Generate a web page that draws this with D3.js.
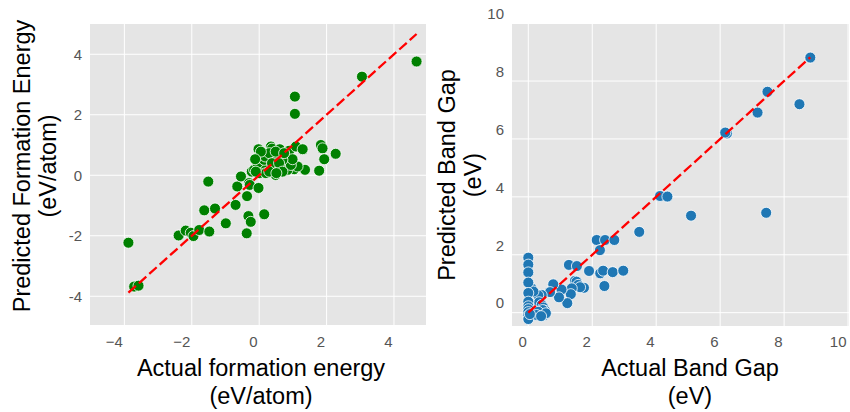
<!DOCTYPE html>
<html>
<head>
<meta charset="utf-8">
<script src="https://d3js.org/d3.v7.min.js"></script>
<style>
  html, body { margin: 0; padding: 0; background: #fff; }
  svg { display: block; font-family: "Liberation Sans", Arial, sans-serif; }
  .tick-label { fill: #555; font-size: 15px; }
  .title { fill: #000; font-size: 23.5px; }
</style>
</head>
<body>
<svg width="850" height="412"></svg>
<script>
// formation energy panel: [actual, predicted]
var feActual = [4.67, 3.05, 1.06, 1.06, -3.88, -3.71, -3.58, -1.51, -1.63, -1.31,
  -2.39, -2.18, -2.03, -1.95, -1.78, -1.48, -0.99, -0.70, -0.36, -0.32,
  -0.25, -0.37, 0.15, -0.65, -0.54, -0.30, -0.28, -0.02, -0.22, -0.15,
  -0.02, 0.35, 0.38, 0.61, 0.89, 1.09, 1.29, 1.83, 1.88, 1.93,
  2.27, 1.78, 1.36, 1.04, 1.14, 0.84, 0.64, 0.49, 0.49, 0.30,
  0.10, 0.00, 0.20, -0.05, 0.10, 0.15, 0.18, 0.45, 0.64, 0.79,
  0.94, 0.99, 0.69, 0.30, 0.49, 0.74, 0.05, -0.12, 0.38, 0.59,
  0.30, -0.10, 0.69, 0.51];
var fePred = [3.76, 3.26, 2.60, 2.03, -2.23, -3.68, -3.65, -0.21, -1.16, -1.10,
  -1.99, -1.83, -1.90, -2.01, -1.81, -1.86, -1.59, -0.98, -0.69, -1.35,
  -1.54, -1.92, -1.29, -0.37, -0.04, -0.26, -0.32, -0.42, 0.12, 0.18,
  0.86, 0.95, 0.88, 0.86, 0.81, 0.95, 0.86, 1.00, 0.89, 0.53,
  0.71, 0.15, 0.18, 0.20, 0.29, 0.18, 0.12, 0.01, 0.20, 0.23,
  0.23, 0.07, 0.07, 0.40, 0.56, 0.51, 0.62, 0.62, 0.45, 0.40,
  0.34, 0.53, 0.51, 0.73, 0.78, 0.73, 0.78, 0.53, 0.40, 0.40,
  0.12, 0.12, 0.12, 0.07];

// band gap panel: [actual, predicted]
var bgActual = [8.82, 7.48, 7.17, 8.48, 6.21, 6.16, 4.12, 4.35, 5.09, 7.44,
  3.47, 2.14, 2.40, 2.69, 2.24, 1.27, 1.52, 1.90, 2.25, 2.34,
  2.64, 2.97, 2.38, 1.46, 1.51, 1.56, 1.74, 1.62, 1.36, 1.33,
  1.22, 1.04, 0.96, 0.78, 0.68, 0.42, 0.31, 0.34, 0.42, 0.47,
  0.52, 0.45, 0.31, 0.26, 0.10, 0.16, 0.00, 0.00, 0.00, 0.00,
  0.00, 0.00, 0.00, 0.00, 0.00, 0.00, 0.00, 0.05, 0.50, 0.55, 0.40];
var bgPred = [8.81, 7.63, 6.91, 7.20, 6.19, 6.22, 4.03, 4.01, 3.35, 3.45,
  2.79, 2.51, 2.51, 2.51, 2.16, 1.65, 1.61, 1.44, 1.36, 1.45,
  1.40, 1.45, 0.92, 1.10, 1.07, 0.96, 0.86, 0.88, 0.84, 0.64,
  0.33, 0.80, 0.53, 0.98, 0.71, 0.61, 0.60, 0.36, 0.27, 0.18,
  0.07, 0.09, 0.03, -0.08, 0.84, 0.73, 1.90, 1.66, 1.39, 1.04,
  0.68, 0.38, 0.22, 0.12, 0.02, -0.10, -0.22, -0.05, -0.08, -0.02, -0.12];

var feTicks = [-4, -2, 0, 2, 4];
var bgTicks = [0, 2, 4, 6, 8, 10];

var svg = d3.select("svg");

function drawPanel(p) {
  var x = d3.scaleLinear().domain(p.xDomain).range([p.left, p.right]);
  var y = d3.scaleLinear().domain(p.yDomain).range([p.bottom, p.top]);
  var g = svg.append("g");

  g.append("rect")
      .attr("x", p.left).attr("y", p.top)
      .attr("width", p.right - p.left).attr("height", p.bottom - p.top)
      .attr("fill", "#e5e5e5");

  // grid
  g.selectAll(".vgrid").data(p.xTicks).enter().append("line")
      .attr("x1", function(d) { return x(d); }).attr("x2", function(d) { return x(d); })
      .attr("y1", p.top).attr("y2", p.bottom)
      .attr("stroke", "#fff").attr("stroke-width", 1);
  g.selectAll(".hgrid").data(p.yTicks).enter().append("line")
      .attr("y1", function(d) { return y(d); }).attr("y2", function(d) { return y(d); })
      .attr("x1", p.left).attr("x2", p.right)
      .attr("stroke", "#fff").attr("stroke-width", 1);

  // tick labels
  g.selectAll(".xl").data(p.xTicks).enter().append("text")
      .attr("class", "tick-label")
      .attr("x", function(d) { return x(d) - 1.5; })
      .attr("y", 347)
      .attr("text-anchor", "end")
      .text(function(d) { return d < 0 ? "\u2212" + Math.abs(d) : d; });
  g.selectAll(".yl").data(p.yTicks).enter().append("text")
      .attr("class", "tick-label")
      .attr("x", p.left - 8)
      .attr("y", function(d) { return y(d) + p.yLabelShift; })
      .attr("dy", "0.35em")
      .attr("text-anchor", "end")
      .text(function(d) { return d; });

  // points
  var pts = d3.zip(p.actual, p.pred);
  g.selectAll(".pt").data(pts).enter().append("circle")
      .attr("cx", function(d) { return x(d[0]); })
      .attr("cy", function(d) { return y(d[1]); })
      .attr("r", 5.5)
      .attr("fill", p.color)
      .attr("stroke", "#fff")
      .attr("stroke-width", 0.8);

  // y = x reference line
  var ext = d3.extent(p.actual);
  g.append("line")
      .attr("x1", x(ext[0])).attr("y1", y(ext[0]))
      .attr("x2", x(ext[1])).attr("y2", y(ext[1]))
      .attr("stroke", "red").attr("stroke-width", 2.3)
      .attr("stroke-dasharray", "10,4");

  // axis titles
  p.xTitle.forEach(function(t, i) {
    g.append("text").attr("class", "title")
        .attr("x", p.xTitleX).attr("y", 376 + i * 28)
        .attr("text-anchor", "middle").text(t);
  });
  p.yTitle.forEach(function(t, i) {
    g.append("text").attr("class", "title")
        .attr("transform", "translate(" + (p.yTitleX + i * 26) + "," + p.yTitleY + ") rotate(-90)")
        .attr("text-anchor", "middle").text(t);
  });
}

drawPanel({
  left: 90, right: 426, top: 24, bottom: 325,
  xDomain: [-5.02, 4.95], yDomain: [-4.95, 5.0],
  xTicks: feTicks, yTicks: feTicks, yLabelShift: 0,
  actual: feActual, pred: fePred, color: "#008000",
  xTitle: ["Actual formation energy", "(eV/atom)"], xTitleX: 261,
  yTitle: ["Predicted Formation Energy", "(eV/atom)"], yTitleX: 30, yTitleY: 166
});

drawPanel({
  left: 512, right: 849, top: 24, bottom: 326,
  xDomain: [-0.51, 10.03], yDomain: [-0.46, 9.97],
  xTicks: bgTicks, yTicks: bgTicks, yLabelShift: -9.5,
  actual: bgActual, pred: bgPred, color: "#1f77b4",
  xTitle: ["Actual Band Gap", "(eV)"], xTitleX: 690,
  yTitle: ["Predicted Band Gap", "(eV)"], yTitleX: 455, yTitleY: 175
});
</script>
</body>
</html>
